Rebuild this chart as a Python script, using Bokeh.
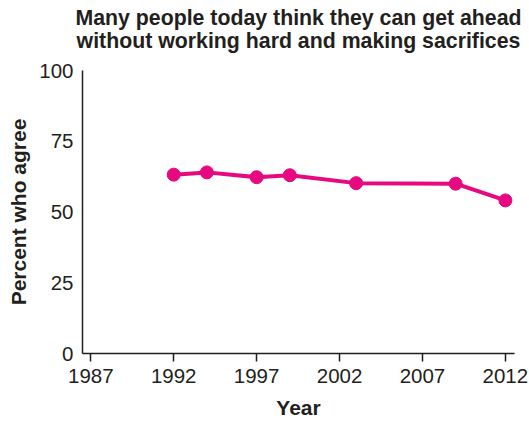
from bokeh.plotting import figure
from bokeh.models import Range1d, FixedTicker, Title
from bokeh.embed import file_html
from bokeh.resources import INLINE

years = [1992, 1994, 1997, 1999, 2003, 2009, 2012]
percent_agree = [63.2, 64.0, 62.3, 63.0, 60.2, 60.0, 54.1]
x_ticks = [1987, 1992, 1997, 2002, 2007, 2012]
y_ticks = [0, 25, 50, 75, 100]
title_lines = ["Many people today think they can get ahead",
               "without working hard and making sacrifices"]

FONT = "Liberation Sans"
TXT = "#231F20"
MAGENTA = "#E6097F"

p = figure(width=529, height=421, output_backend="svg", toolbar_location=None,
           x_range=Range1d(1986.5, 2012.55), y_range=Range1d(0, 100),
           min_border_left=82, min_border_right=15, min_border_top=70,
           min_border_bottom=64)
p.title = None
# first added = nearest the frame
title_specs = [(title_lines[1], 35), (title_lines[0], -40)]
for line, sto in title_specs:
    t = Title(text=line, align="center", text_font=FONT, text_font_size="21.3px",
              text_font_style="bold", text_color=TXT, standoff=sto)
    p.add_layout(t, "above")

p.outline_line_color = None
p.grid.visible = False
p.background_fill_color = "white"
p.border_fill_color = "white"

p.line(years, percent_agree, line_color=MAGENTA, line_width=4)
p.scatter(years, percent_agree, size=13, fill_color=MAGENTA, line_color=MAGENTA)

xa = p.xaxis[0]
xa.ticker = FixedTicker(ticks=x_ticks)
xa.minor_tick_line_color = None
xa.major_tick_out = 8
xa.major_tick_in = 0
xa.major_label_standoff = 7
xa.axis_label = "Year"
xa.axis_label_standoff = 10

ya = p.yaxis[0]
ya.ticker = FixedTicker(ticks=y_ticks)
ya.minor_tick_line_color = None
ya.major_tick_out = 0
ya.major_tick_in = 0
ya.major_label_standoff = 9
ya.axis_label = "Percent who agree"
ya.axis_label_standoff = 6

for ax in (xa, ya):
    ax.axis_line_color = TXT
    ax.axis_line_width = 1.5
    ax.major_tick_line_color = TXT
    ax.major_tick_line_width = 1.5
    ax.major_label_text_font = FONT
    ax.major_label_text_font_size = "20.5px"
    ax.major_label_text_color = TXT
    ax.axis_label_text_font = FONT
    ax.axis_label_text_font_size = "21px"
    ax.axis_label_text_font_style = "bold"
    ax.axis_label_text_color = TXT

open("out.html", "w").write(file_html(p, INLINE))
